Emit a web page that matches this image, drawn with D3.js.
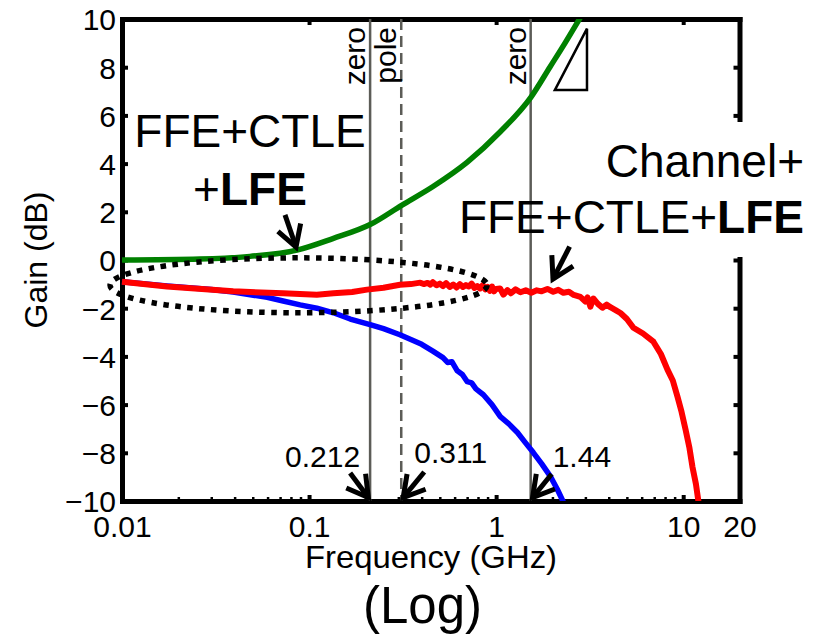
<!DOCTYPE html>
<html>
<head>
<meta charset="utf-8">
<script src="https://cdn.jsdelivr.net/npm/d3@7"></script>
<style>
body { margin: 0; background: #fff; }
svg { display: block; font-family: "Liberation Sans", Arial, Helvetica, sans-serif; }
</style>
</head>
<body>
<svg id="chart" width="825" height="636"></svg>
<script>
// axis ticks
var freqTicks = [0.01, 0.1, 1, 10, 20];
var freqTickLabels = ['0.01', '0.1', '1', '10', '20'];
var freqMinorTicks = [0.02, 0.03, 0.04, 0.05, 0.06, 0.07, 0.08, 0.09,
                      0.2, 0.3, 0.4, 0.5, 0.6, 0.7, 0.8, 0.9,
                      2, 3, 4, 5, 6, 7, 8, 9];
var gainTicks = [-10, -8, -6, -4, -2, 0, 2, 4, 6, 8, 10];

// FFE+CTLE+LFE (green)
var eqFreq = [0.01, 0.0261, 0.0483, 0.0862, 0.134, 0.212, 0.314, 0.46, 0.699, 1.049, 1.536, 1.941, 2.334, 2.808, 3.1];
var eqGain = [0, 0.04, 0.15, 0.41, 0.89, 1.47, 2.28, 3.05, 4.05, 5.31, 6.76, 8.01, 9.0, 10.04, 10.6];

// Channel alone (blue)
var chFreq = [0.01, 0.0174, 0.03, 0.0393, 0.0597, 0.0727, 0.0896, 0.11, 0.135, 0.166, 0.212, 0.25, 0.306, 0.35,
              0.40, 0.459, 0.52, 0.55, 0.58, 0.62, 0.66, 0.701, 0.74, 0.78, 0.855, 0.95, 1.053, 1.17, 1.30, 1.44,
              1.58, 1.75, 1.95, 2.12, 2.29];
var chGain = [-0.9, -1.08, -1.22, -1.33, -1.55, -1.7, -1.86, -2.0, -2.19, -2.45, -2.68, -2.85, -3.1, -3.3,
              -3.5, -3.78, -4.05, -4.25, -4.22, -4.6, -4.75, -5.05, -5.1, -5.35, -5.59, -6.0, -6.5, -6.8, -7.16, -7.6,
              -7.99, -8.45, -8.98, -9.5, -10.05];

// Channel+FFE+CTLE+LFE (red)
var totFreq = [0.01, 0.0174, 0.0393, 0.0727, 0.11, 0.135, 0.17, 0.204, 0.25, 0.306, 0.35, 0.393, 0.41, 0.43, 0.445, 0.459,
               0.48, 0.5, 0.52, 0.54, 0.565, 0.59, 0.615, 0.64, 0.665, 0.69, 0.715, 0.74, 0.765, 0.793, 0.82, 0.85, 0.875,
               0.9, 0.925, 0.95, 0.975, 1.0, 1.05, 1.093, 1.15, 1.2, 1.27,
               1.348, 1.44, 1.542, 1.65, 1.75, 1.88, 2.02, 2.15, 2.29, 2.45, 2.6, 2.82, 3.0, 3.08, 3.19, 3.31,
               3.5, 3.7, 3.9, 4.08, 4.35, 4.62, 5.0, 5.42, 6.1, 6.93, 7.6, 8.24, 8.8, 9.32, 9.8, 10.29, 10.8,
               11.2, 11.7, 12.08];
var totGain = [-0.9, -1.1, -1.3, -1.38, -1.44, -1.38, -1.33, -1.23, -1.15, -1.03, -1.0, -0.94, -1.0, -0.95, -1.02, -0.92,
               -1.05, -0.98, -1.08, -0.96, -1.12, -1.02, -1.14, -1.0, -1.12, -1.04, -1.1, -0.98, -1.16, -1.08, -1.18, -1.04, -1.22,
               -1.12, -1.28, -1.1, -1.3, -1.2, -1.18, -1.44, -1.25, -1.38, -1.22,
               -1.34, -1.26, -1.36, -1.26, -1.3, -1.2, -1.32, -1.24, -1.36, -1.32, -1.45, -1.53, -1.72, -1.55, -1.94, -1.6,
               -1.82, -1.98, -1.85, -1.96, -2.08, -2.2, -2.45, -2.81, -3.05, -3.39, -3.9, -4.55, -5.0, -5.67, -6.3, -7.03, -7.8,
               -8.57, -9.3, -10.05];

// zero / pole markers
var markerFreq = [0.212, 0.311, 1.53];
var markerName = ['zero', 'pole', 'zero'];
var markerValue = ['0.212', '0.311', '1.44'];

// dotted loop around the low-frequency region
var loopFreq = [0.00863, 0.894];
var loopGain = -1.05;
var loopHalf = 1.14;

// slope triangle
var triFreq = [2.06, 3.06];
var triGain = [7.05, 9.6];

var svg = d3.select('#chart');
var plot = {l: 122, r: 739.5, t: 19, b: 501};

var x = d3.scaleLog().domain([0.01, 20]).range([plot.l, plot.r]);
var y = d3.scaleLinear().domain([-10, 10]).range([plot.b, plot.t]);

var font = '"Liberation Sans", Arial, Helvetica, sans-serif';

function styleAxis(g) {
    g.attr('font-family', font).attr('font-size', 30);
    g.select('.domain').attr('stroke', '#000').attr('stroke-width', 5).attr('stroke-linecap', 'square');
    g.selectAll('.tick line').attr('stroke', '#000').attr('stroke-width', 4);
    g.selectAll('.tick text').attr('fill', '#000');
}

// axes box
var leftAxis = svg.append('g')
    .attr('transform', 'translate(' + plot.l + ',0)')
    .call(d3.axisLeft(y).tickValues(gainTicks).tickSize(-6).tickSizeOuter(0).tickPadding(6)
        .tickFormat(d3.format('d')));
styleAxis(leftAxis);
leftAxis.selectAll('.tick text').attr('dy', '0.36em');

var rightAxis = svg.append('g')
    .attr('transform', 'translate(' + plot.r + ',0)')
    .call(d3.axisRight(y).tickValues(gainTicks).tickSize(-6).tickSizeOuter(0).tickFormat(''));
styleAxis(rightAxis);

var topAxis = svg.append('g')
    .attr('transform', 'translate(0,' + plot.t + ')')
    .call(d3.axisTop(x).tickValues([0.1, 1, 10]).tickSize(-6).tickSizeOuter(0).tickFormat(''));
styleAxis(topAxis);

var minorAxis = svg.append('g')
    .attr('transform', 'translate(0,' + plot.b + ')')
    .call(d3.axisBottom(x).tickValues(freqMinorTicks).tickSize(-4).tickFormat(''));
minorAxis.select('.domain').remove();
minorAxis.selectAll('.tick line').attr('stroke', '#000').attr('stroke-width', 2.5);

var bottomAxis = svg.append('g')
    .attr('transform', 'translate(0,' + plot.b + ')')
    .call(d3.axisBottom(x).tickValues(freqTicks).tickSize(-6).tickSizeOuter(0)
        .tickFormat(function(d, i) { return freqTickLabels[i]; }));
styleAxis(bottomAxis);
bottomAxis.selectAll('.tick text').attr('y', 36).attr('dy', 0);

// axis titles
svg.append('text')
    .attr('transform', 'translate(47,260) rotate(-90)')
    .attr('text-anchor', 'middle')
    .attr('font-size', 32)
    .text('Gain (dB)');
svg.append('text')
    .attr('x', 431).attr('y', 568)
    .attr('text-anchor', 'middle')
    .attr('font-size', 32)
    .attr('textLength', 252).attr('lengthAdjust', 'spacingAndGlyphs')
    .text('Frequency (GHz)');
svg.append('text')
    .attr('x', 422.5).attr('y', 623)
    .attr('text-anchor', 'middle')
    .attr('font-size', 51)
    .text('(Log)');

// white box behind the right-hand label (hides part of the right axis)
svg.append('rect')
    .attr('x', 595).attr('y', 122).attr('width', 217).attr('height', 135)
    .attr('fill', '#fff');

// zero / pole lines
var markers = svg.append('g');
markerFreq.forEach(function(f, i) {
    markers.append('line')
        .attr('x1', x(f)).attr('x2', x(f))
        .attr('y1', y(10)).attr('y2', y(-10))
        .attr('stroke', '#5c5c57')
        .attr('stroke-width', 2.5)
        .attr('stroke-dasharray', markerName[i] === 'pole' ? '11,6' : null);
    markers.append('text')
        .attr('transform', 'translate(' + (x(f) - 5) + ',' + (plot.t + 8) + ') rotate(-90)')
        .attr('text-anchor', 'end')
        .attr('font-size', 30)
        .text(markerName[i]);
});

// curves
svg.append('clipPath').attr('id', 'plotClip')
    .append('rect')
    .attr('x', plot.l - 3).attr('y', plot.t)
    .attr('width', plot.r - plot.l + 6).attr('height', plot.b - plot.t);

var curves = svg.append('g').attr('clip-path', 'url(#plotClip)');

var smoothLine = d3.line()
    .x(function(d) { return x(d[0]); })
    .y(function(d) { return y(d[1]); })
    .curve(d3.curveMonotoneX);
var rawLine = d3.line()
    .x(function(d) { return x(d[0]); })
    .y(function(d) { return y(d[1]); });

curves.append('path')
    .datum(d3.zip(chFreq, chGain))
    .attr('d', rawLine)
    .attr('fill', 'none').attr('stroke', '#0000ff').attr('stroke-width', 5.5).attr('stroke-linejoin', 'round');
curves.append('path')
    .datum(d3.zip(eqFreq, eqGain))
    .attr('d', smoothLine)
    .attr('fill', 'none').attr('stroke', '#008000').attr('stroke-width', 5.5);
curves.append('path')
    .datum(d3.zip(totFreq, totGain))
    .attr('d', rawLine)
    .attr('fill', 'none').attr('stroke', '#ff0000').attr('stroke-width', 6).attr('stroke-linejoin', 'round');

// dotted loop
var lx0 = x(loopFreq[0]), lx1 = x(loopFreq[1]);
svg.append('ellipse')
    .attr('cx', (lx0 + lx1) / 2).attr('cy', y(loopGain))
    .attr('rx', (lx1 - lx0) / 2).attr('ry', y(loopGain - loopHalf) - y(loopGain))
    .attr('fill', 'none').attr('stroke', '#000')
    .attr('stroke-width', 5.5).attr('stroke-dasharray', '5.5,6.5');

// slope triangle
svg.append('path')
    .attr('d', 'M' + [x(triFreq[0]), y(triGain[0])] + 'L' + [x(triFreq[1]), y(triGain[1])] +
               'L' + [x(triFreq[1]), y(triGain[0])] + 'Z')
    .attr('fill', '#fff').attr('stroke', '#000').attr('stroke-width', 2.5);

// arrows
function drawArrow(tipX, tipY, dx, dy) {
    var tailX = tipX + dx, tailY = tipY + dy;
    var ang = Math.atan2(dy, dx);
    var len = 24, spread = Math.PI / 6;
    // pull the tip back a little so the mitered point lands on target
    var tx = tipX + 3 * Math.cos(ang), ty = tipY + 3 * Math.sin(ang);
    var g = svg.append('g').attr('stroke', '#000').attr('stroke-width', 5).attr('fill', 'none');
    g.append('line')
        .attr('x1', tailX).attr('y1', tailY).attr('x2', tx).attr('y2', ty);
    g.append('path')
        .attr('stroke-linejoin', 'miter')
        .attr('d', 'M' + [tx + len * Math.cos(ang - spread), ty + len * Math.sin(ang - spread)] +
                   'L' + [tx, ty] +
                   'L' + [tx + len * Math.cos(ang + spread), ty + len * Math.sin(ang + spread)]);
}

var markerArrow = [[-20, -27], [23, -28], [21, -26]];
var markerText = [{dx: -10, dy: -34, anchor: 'end'}, {dx: 13, dy: -38, anchor: 'start'}, {dx: 22, dy: -34, anchor: 'start'}];
markerFreq.forEach(function(f, i) {
    drawArrow(x(f), plot.b - 1, markerArrow[i][0], markerArrow[i][1]);
    svg.append('text')
        .attr('x', x(f) + markerText[i].dx).attr('y', plot.b + markerText[i].dy)
        .attr('text-anchor', markerText[i].anchor)
        .attr('font-size', 30)
        .text(markerValue[i]);
});

drawArrow(x(0.0862), y(0.42), -12, -35);
drawArrow(x(1.98), y(-0.9), 18, -35);

// big labels
var leftLabel = svg.append('text').attr('font-size', 46).attr('text-anchor', 'middle');
leftLabel.append('tspan').attr('x', 250).attr('y', 147).text('FFE+CTLE');
var l2 = leftLabel.append('tspan').attr('x', 250).attr('y', 205);
l2.text('+');
leftLabel.append('tspan').attr('font-weight', 'bold').text('LFE');

var rightLabel = svg.append('text').attr('font-size', 46).attr('text-anchor', 'end');
rightLabel.append('tspan').attr('x', 804).attr('y', 177).text('Channel+');
rightLabel.append('tspan').attr('x', 804).attr('y', 233).text('FFE+CTLE+');
rightLabel.append('tspan').attr('font-weight', 'bold').text('LFE');
</script>
</body>
</html>
